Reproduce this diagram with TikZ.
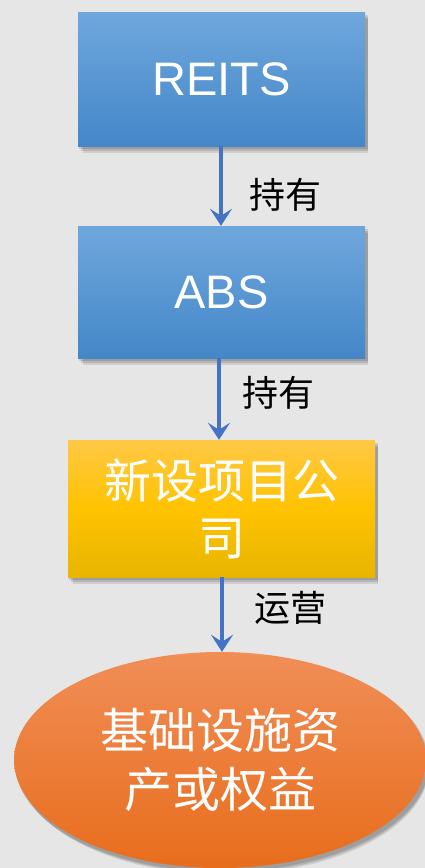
\documentclass[tikz,border=0pt]{standalone}
\usepackage{fontspec}
\setmainfont{Liberation Sans}
\newfontfamily\cjk{Noto Sans CJK SC}
\usetikzlibrary{shapes.geometric,shadows,arrows.meta}
\definecolor{bg}{HTML}{E6E6E6}
\definecolor{bluetop}{HTML}{6FA7DC}
\definecolor{bluebot}{HTML}{4487C9}
\definecolor{yeltop}{HTML}{FFC845}
\definecolor{yelmid}{HTML}{FFC300}
\definecolor{yelbot}{HTML}{E8B500}
\definecolor{ortop}{HTML}{F08E57}
\definecolor{orbot}{HTML}{E86D1C}
\definecolor{arrowblue}{HTML}{4472C4}
\tikzset{
  shad/.style={
    drop shadow={shadow xshift=2pt,shadow yshift=-3pt,opacity=0.12,fill=black,shadow scale=1.005},
    drop shadow={shadow xshift=3pt,shadow yshift=-5pt,opacity=0.12,fill=black,shadow scale=1.0},
    drop shadow={shadow xshift=4pt,shadow yshift=-7pt,opacity=0.10,fill=black,shadow scale=0.995}},
  bluebox/.style={rectangle,shad,top color=bluetop,bottom color=bluebot,draw=none,text=white,minimum width=287pt,minimum height=134pt,inner sep=0pt,font=\fontsize{47pt}{56pt}\selectfont},
  yelbox/.style={rectangle,shad,top color=yeltop,bottom color=yelbot,middle color=yelmid,draw=none,text=white,minimum width=307pt,minimum height=137pt,inner sep=0pt,align=center,font=\cjk\fontsize{47pt}{57pt}\selectfont},
  orell/.style={ellipse,shad,top color=ortop,bottom color=orbot,draw=none,text=white,minimum width=412pt,minimum height=216pt,inner sep=0pt,align=center,font=\cjk\fontsize{48pt}{59pt}\selectfont},
  conn/.style={draw=arrowblue,line width=4pt,-{Stealth[length=17pt,width=22pt,inset=7pt]}},
  lbl/.style={text=black,font=\cjk\fontsize{36pt}{42pt}\selectfont,inner sep=0pt}
}
\begin{document}
\begin{tikzpicture}[x=1pt,y=-1pt]
\fill[bg] (0,0) rectangle (425,868);
\useasboundingbox (0,0) rectangle (425,868);
\node[bluebox] (reits) at (221.5,79) {REITS};
\node[bluebox,minimum height=132pt] (abs) at (221.5,292) {ABS};
\node[yelbox] (xin) at (221.5,508.5) {新设项目公\\司};
\node[orell] (jc) at (220,760) {基础设施资\\产或权益};
\draw[conn] (reits.south -| 221,0) -- (abs.north -| 221,0);
\draw[conn] (abs.south -| 219,0) -- (xin.north -| 219,0);
\draw[conn] (xin.south -| 222,0) -- (jc.north -| 222,0);
\node[lbl] (l1) at (285,195) {持有};
\node[lbl] (l2) at (278,393) {持有};
\node[lbl] (l3) at (290,608) {运营};
\end{tikzpicture}
\end{document}
